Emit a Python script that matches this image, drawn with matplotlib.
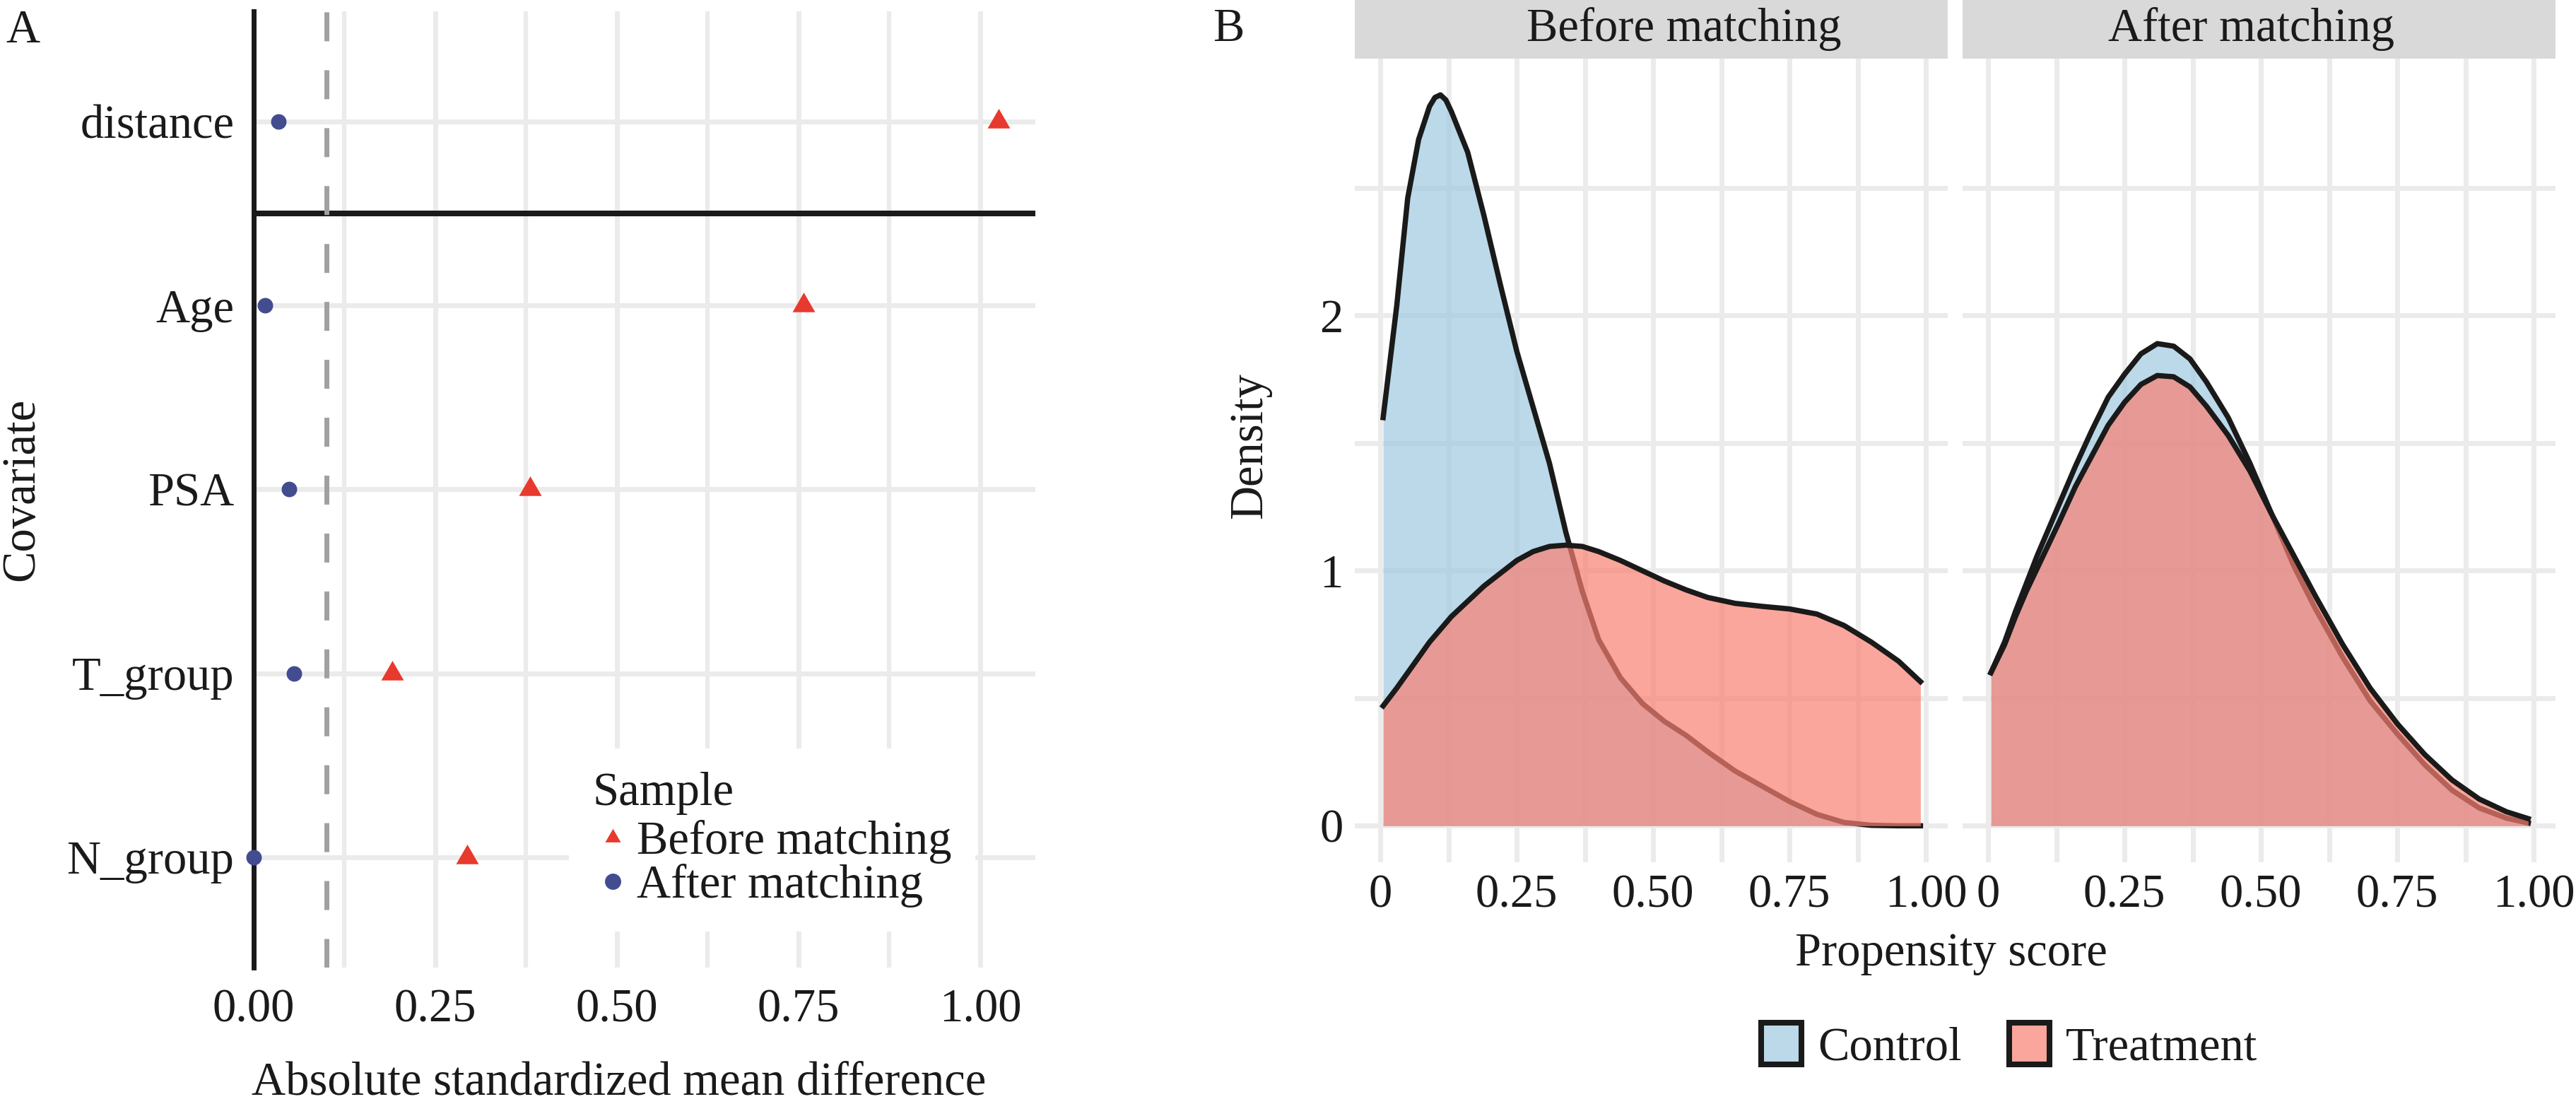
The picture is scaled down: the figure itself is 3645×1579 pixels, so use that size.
import matplotlib
matplotlib.use("Agg")
import matplotlib.pyplot as plt
from matplotlib.colors import to_rgba
from matplotlib.font_manager import FontProperties
from matplotlib.lines import Line2D
from matplotlib.patches import Patch, Rectangle

plt.rcParams["font.family"] = "serif"
plt.rcParams["font.serif"] = ["Liberation Serif", "DejaVu Serif"]

# ---- data: panel A (love plot) ----
covariates = ["N_group", "T_group", "PSA", "Age", "distance"]
smd_before = [0.294, 0.191, 0.380, 0.757, 1.025]
smd_after = [0.000, 0.055, 0.049, 0.016, 0.034]

# ---- data: panel B (propensity score densities) ----
ps_grid = [0.005, 0.03, 0.05, 0.07, 0.09, 0.10, 0.11, 0.12, 0.13, 0.16, 0.19, 0.22,
           0.25, 0.28, 0.31, 0.34, 0.37, 0.40, 0.44, 0.48, 0.52, 0.56,
           0.60, 0.65, 0.70, 0.75, 0.80, 0.85, 0.90, 0.95, 0.99]
ctrl_before = [1.60, 2.04, 2.46, 2.69, 2.82, 2.855, 2.865, 2.845, 2.80, 2.64, 2.39, 2.12,
               1.86, 1.64, 1.42, 1.15, 0.92, 0.73, 0.58, 0.48, 0.41, 0.355,
               0.29, 0.215, 0.155, 0.095, 0.045, 0.013, 0.002, 0.0, 0.0]
treat_before = [0.47, 0.54, 0.60, 0.66, 0.72, 0.745, 0.77, 0.795, 0.82, 0.88, 0.94, 0.99,
                1.04, 1.075, 1.095, 1.10, 1.095, 1.075, 1.04, 1.00, 0.96, 0.925,
                0.895, 0.872, 0.86, 0.85, 0.83, 0.785, 0.72, 0.645, 0.565]
ctrl_after = [0.60, 0.72, 0.84, 0.95, 1.06, 1.11, 1.16, 1.21, 1.26, 1.41, 1.55, 1.68,
              1.77, 1.85, 1.89, 1.88, 1.83, 1.74, 1.60, 1.42, 1.22, 1.02,
              0.85, 0.66, 0.49, 0.36, 0.24, 0.14, 0.07, 0.03, 0.011]
treat_after = [0.60, 0.71, 0.82, 0.92, 1.01, 1.055, 1.10, 1.145, 1.19, 1.33, 1.45, 1.57,
               1.66, 1.73, 1.765, 1.76, 1.72, 1.645, 1.53, 1.39, 1.22, 1.06,
               0.90, 0.71, 0.54, 0.40, 0.28, 0.18, 0.105, 0.055, 0.028]
facet_titles = ["Before matching", "After matching"]
group_labels = ["Control", "Treatment"]

W, H = 3645, 1579
DPI = 100
FS = 48
FP = FontProperties(family="Liberation Serif", size=FS)
INK = "#1a1a1a"
GRID = "#ebebeb"
RED = "#e8392e"
NAVY = "#434c90"
CTRL = "#9ecae1"
TREAT = "#fa8072"
TRI = [(0, 1), (-0.866, -0.5), (0.866, -0.5), (0, 1)]


def fx(px):
    return px / W


def fy(py):
    return 1 - py / H


def label(x, y, s, **kw):
    fig.text(fx(x), fy(y), s, fontproperties=FP, color=INK, va="center", **kw)


fig = plt.figure(figsize=(W / DPI, H / DPI), dpi=DPI)

# ---------------- panel A ----------------
axA = fig.add_axes([fx(359), fy(1369), fx(1106), (1369 - 16) / H])
axA.set_xlim(0, 1.076)
axA.set_ylim(0.4, 5.6)
for s in axA.spines.values():
    s.set_visible(False)
axA.set_axisbelow(True)
axA.set_xticks([0, 0.25, 0.5, 0.75, 1.0])
axA.set_xticklabels(["0.00", "0.25", "0.50", "0.75", "1.00"], fontproperties=FP)
axA.set_xticks([0.125, 0.375, 0.625, 0.875], minor=True)
ypos = list(range(1, len(covariates) + 1))
axA.set_yticks(ypos)
axA.set_yticklabels(covariates, fontproperties=FP)
axA.grid(which="major", color=GRID, lw=5)
axA.grid(which="minor", axis="x", color=GRID, lw=4.5)
axA.tick_params(which="both", length=0, labelcolor=INK)
axA.tick_params(axis="x", pad=21)
axA.tick_params(axis="y", pad=20)

axA.axhline(4.5, color=INK, lw=5.8, zorder=2)
axA.axvline(0, color=INK, lw=5, zorder=2, clip_on=False)
axA.axvline(0.1, color="#a0a0a0", lw=5, ls=(0, (5.9, 5.9)), zorder=2.5)

axA.scatter(smd_before, ypos, marker=TRI, s=26.6 ** 2, color=RED, lw=0,
            zorder=3, clip_on=False)
axA.scatter(smd_after, ypos, marker="o", s=15.8 ** 2, color=NAVY, lw=0,
            zorder=3, clip_on=False)

handles = [
    Line2D([], [], ls="none", marker=TRI, ms=18.3, color=RED, mew=0, label="Before matching"),
    Line2D([], [], ls="none", marker="o", ms=16.5, color=NAVY, mew=0, label="After matching"),
]
legA = axA.legend(handles=handles, title="Sample", loc="upper left",
                  bbox_to_anchor=(fx(805), fy(1059)), bbox_transform=fig.transFigure,
                  prop=FP, title_fontproperties=FP, frameon=True, framealpha=1,
                  facecolor="white", edgecolor="none", fancybox=False,
                  borderpad=0.5, borderaxespad=0, handlelength=0.86,
                  handletextpad=0.08, labelspacing=0.0, alignment="left")
legA.get_frame().set_linewidth(0)
legA._legend_box.sep = 5  # a bit more room under the title
for t in legA.get_texts():
    t.set_color(INK)
legA.get_title().set_color(INK)

label(876, 1532, "Absolute standardized mean difference", ha="center")
label(31, 692, "Covariate", rotation=90, ha="center")
label(8, 43, "A", ha="left")

# ---------------- panel B ----------------
panels = [(1917, ctrl_before, treat_before, 2383),
          (2777, ctrl_after, treat_after, 3185)]
for i, (left, ctrl, treat, tcx) in enumerate(panels):
    ax = fig.add_axes([fx(left), fy(1220), fx(839), (1220 - 83) / H])
    ax.set_xlim(-0.047, 1.04)
    ax.set_ylim(-0.143, 3.007)
    for s in ax.spines.values():
        s.set_visible(False)
    ax.set_axisbelow(True)
    ax.set_xticks([0, 0.25, 0.5, 0.75, 1.0])
    ax.set_xticklabels(["0", "0.25", "0.50", "0.75", "1.00"], fontproperties=FP)
    ax.set_xticks([0.125, 0.375, 0.625, 0.875], minor=True)
    ax.set_yticks([0, 1, 2])
    ax.set_yticks([0.5, 1.5, 2.5], minor=True)
    if i == 0:
        ax.set_yticklabels(["0", "1", "2"], fontproperties=FP)
    else:
        ax.set_yticklabels([])
    ax.grid(which="both", color=GRID, lw=5)
    ax.tick_params(which="both", length=0, labelcolor=INK)
    ax.tick_params(axis="x", pad=12)
    ax.tick_params(axis="y", pad=12)

    ax.fill_between(ps_grid, ctrl, 0, color=CTRL, alpha=0.7, lw=0, zorder=2)
    ax.plot(ps_grid, ctrl, color=INK, lw=5.4, zorder=2, solid_joinstyle="round")
    ax.fill_between(ps_grid, treat, 0, color=TREAT, alpha=0.7, lw=0, zorder=2)
    ax.plot(ps_grid, treat, color=INK, lw=5.4, zorder=2, solid_joinstyle="round")

    fig.patches.append(Rectangle((fx(left), fy(83)), fx(839), 83 / H,
                                 transform=fig.transFigure, color="#d9d9d9", lw=0))
    label(tcx, 41, facet_titles[i], ha="center")

label(1769, 631, "Density", rotation=90, ha="center")
label(2761, 1349, "Propensity score", ha="center")
label(1716, 42, "B", ha="left")

keys = [Patch(facecolor=to_rgba(CTRL, 0.7), edgecolor=INK, lw=5.8, label=group_labels[0]),
        Patch(facecolor=to_rgba(TREAT, 0.7), edgecolor=INK, lw=5.8, label=group_labels[1])]
legB = fig.legend(handles=keys, loc="center", bbox_to_anchor=(fx(2843), fy(1480)),
                  ncol=2, frameon=False, prop=FP, handlelength=0.86,
                  handleheight=1.0, handletextpad=0.35, columnspacing=1.0,
                  borderpad=0, borderaxespad=0)
for t in legB.get_texts():
    t.set_color(INK)

fig.savefig("out.png", dpi=DPI)
